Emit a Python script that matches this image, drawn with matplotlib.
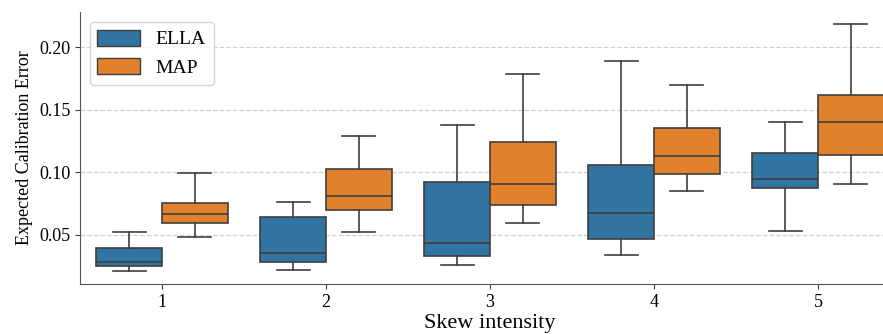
import matplotlib.pyplot as plt
import matplotlib.patches as mpatches
import numpy as np

plt.rcParams['font.family'] = ['Liberation Serif', 'DejaVu Serif']

skew = ["1", "2", "3", "4", "5"]

# box stats: whislo, q1, median, q3, whishi
ella_lo  = [0.0214, 0.0220, 0.0260, 0.0338, 0.0532]
ella_q1  = [0.0250, 0.0287, 0.0332, 0.0470, 0.0878]
ella_med = [0.0282, 0.0354, 0.0438, 0.0674, 0.0950]
ella_q3  = [0.0394, 0.0642, 0.0924, 0.1062, 0.1154]
ella_hi  = [0.0522, 0.0766, 0.1374, 0.1886, 0.1404]

map_lo  = [0.0482, 0.0526, 0.0598, 0.0850, 0.0906]
map_q1  = [0.0598, 0.0700, 0.0742, 0.0986, 0.1140]
map_med = [0.0666, 0.0814, 0.0906, 0.1132, 0.1398]
map_q3  = [0.0758, 0.1026, 0.1244, 0.1350, 0.1618]
map_hi  = [0.0996, 0.1286, 0.1786, 0.1694, 0.2186]

blue = "#3274a1"
orange = "#e1812c"
edge = "#3f3f3f"


def make_stats(lo, q1, med, q3, hi):
    return [dict(whislo=a, q1=b, med=c, q3=d, whishi=e, fliers=[])
            for a, b, c, d, e in zip(lo, q1, med, q3, hi)]


fig = plt.figure(figsize=(8.83, 3.34), dpi=100)
ax = fig.add_axes([0.0906, 0.1497, 0.9287, 0.8143])

x = np.arange(len(skew))
w = 0.4
groups = [(make_stats(ella_lo, ella_q1, ella_med, ella_q3, ella_hi), blue, -w / 2),
          (make_stats(map_lo, map_q1, map_med, map_q3, map_hi), orange, w / 2)]

for stats, col, off in groups:
    ax.bxp(stats, positions=x + off, widths=w, patch_artist=True, showfliers=False,
           boxprops=dict(facecolor=col, edgecolor=edge, linewidth=1.2),
           medianprops=dict(color=edge, linewidth=1.2),
           whiskerprops=dict(color=edge, linewidth=1.2),
           capprops=dict(color=edge, linewidth=1.2), zorder=3)

ax.set_xlim(-0.5, 4.5)
ax.set_ylim(0.0108, 0.228)
ax.set_xticks(x)
ax.set_xticklabels(skew)
ax.set_yticks([0.05, 0.10, 0.15, 0.20])
ax.set_yticklabels(["0.05", "0.10", "0.15", "0.20"])
ax.tick_params(labelsize=13, color=edge)

ax.yaxis.grid(True, linestyle="--", color="#d0d0d0", linewidth=0.9)
ax.set_axisbelow(True)
for s in ["top", "right"]:
    ax.spines[s].set_visible(False)
for s in ["left", "bottom"]:
    ax.spines[s].set_color("#555555")

ax.set_ylabel("Expected Calibration Error", fontsize=13)
ax.set_xlabel("Skew intensity", fontsize=16, labelpad=2)

handles = [mpatches.Patch(facecolor=blue, edgecolor=edge, label="ELLA"),
           mpatches.Patch(facecolor=orange, edgecolor=edge, label="MAP")]
ax.legend(handles=handles, loc="upper left", fontsize=14, handlelength=2.2,
          handleheight=0.9, frameon=True)

fig.savefig("out.png", dpi=100)
